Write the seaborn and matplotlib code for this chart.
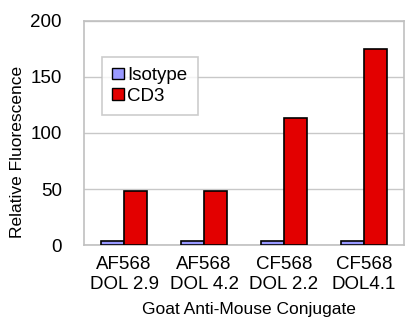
import pandas as pd
import numpy as np
import matplotlib.pyplot as plt
import seaborn as sns

conjugates = ['AF568\nDOL 2.9', 'AF568\nDOL 4.2', 'CF568\nDOL 2.2', 'CF568\nDOL4.1']
isotype = [4, 4, 4, 4]
cd3 = [48, 48, 113, 175]
series = ['Isotype', 'CD3']
colors = ['#9999FF', '#E30000']

df = pd.DataFrame({
    'Conjugate': conjugates * 2,
    'Value': isotype + cd3,
    'Series': ['Isotype'] * 4 + ['CD3'] * 4,
})

sns.set_style('white')
plt.rcParams['font.family'] = ['Liberation Sans', 'DejaVu Sans']
plt.rcParams['text.color'] = 'black'
plt.rcParams['axes.labelcolor'] = 'black'
plt.rcParams['xtick.color'] = 'black'
plt.rcParams['ytick.color'] = 'black'

fig = plt.figure(figsize=(4.06, 3.17), dpi=100)
ax = fig.add_axes([0.207, 0.227, 0.788, 0.707])

sns.barplot(data=df, x='Conjugate', y='Value', hue='Series', hue_order=series,
            palette=colors, width=0.58, edgecolor='black', linewidth=1.2,
            saturation=1, ax=ax, zorder=3)

ax.set_ylim(0, 200)
ax.set_yticks([0, 50, 100, 150, 200])
ax.yaxis.grid(True, color='#C8C8C8', linewidth=1, zorder=0)
for s in ax.spines.values():
    s.set_color('#C0C0C0')
    s.set_linewidth(1.2)
ax.tick_params(axis='y', length=0, pad=16, labelsize=13.5)
ax.tick_params(axis='x', length=0, pad=8, labelsize=13.5)
ax.set_xlabel('Goat Anti-Mouse Conjugate', fontsize=12.5)
ax.set_ylabel('Relative Fluorescence', fontsize=12.5)
ax.xaxis.set_label_coords(0.516, -0.255)
ax.yaxis.set_label_coords(-0.183, 0.415)

leg = ax.legend(loc='upper left', bbox_to_anchor=(0.056, 0.84), fontsize=13.5,
                frameon=True, fancybox=False, edgecolor='#C0C0C0',
                handlelength=0.6, handleheight=0.6, handletextpad=0.2,
                borderpad=0.55, labelspacing=0.2, borderaxespad=0)
leg.get_frame().set_linewidth(1.2)
for h in leg.legend_handles:
    h.set_linewidth(1)

plt.savefig('out.png', dpi=100)
